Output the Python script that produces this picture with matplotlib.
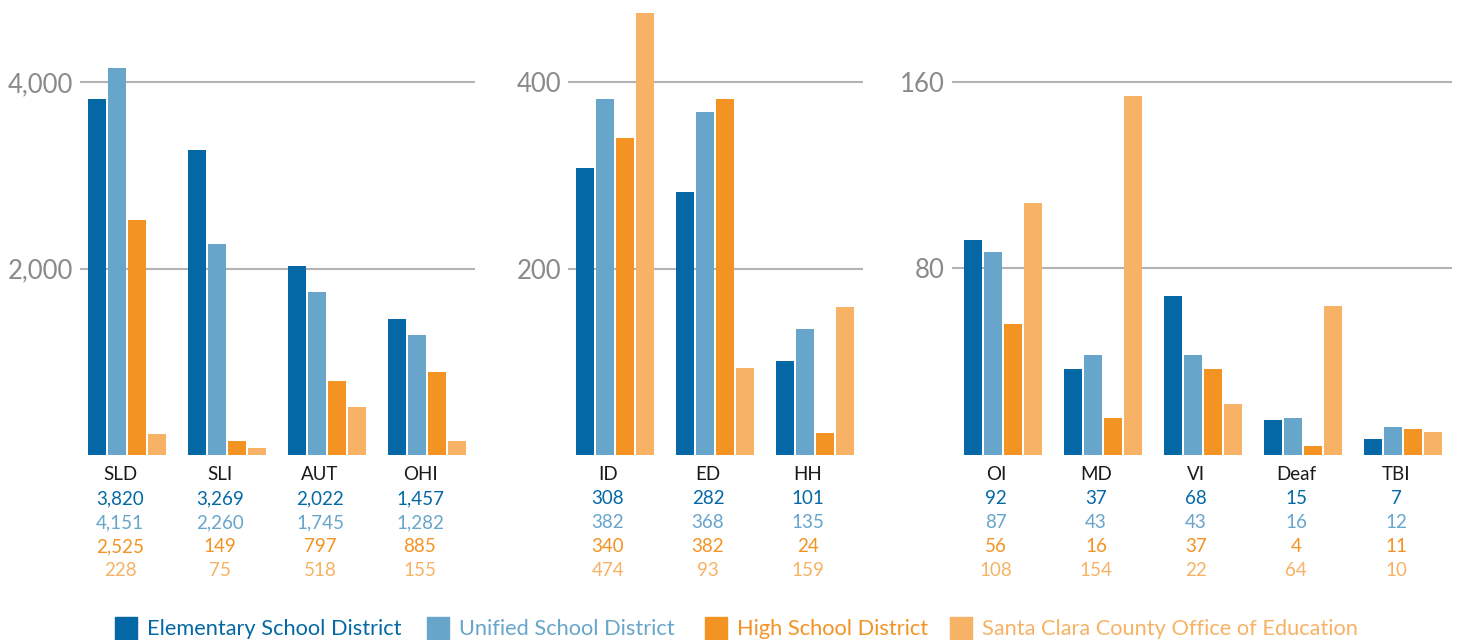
import matplotlib
matplotlib.use('Agg')
import matplotlib.pyplot as plt
from matplotlib.patches import Rectangle
from matplotlib.transforms import blended_transform_factory

plt.rcParams['font.family'] = ['Lato', 'DejaVu Sans']

# data
series = ['Elementary School District', 'Unified School District',
          'High School District', 'Santa Clara County Office of Education']
colors = ['#0468a6', '#67a5cb', '#f39323', '#f7b265']

cats1 = ['SLD', 'SLI', 'AUT', 'OHI']
elem1 = [3820, 3269, 2022, 1457]
unif1 = [4151, 2260, 1745, 1282]
high1 = [2525, 149, 797, 885]
sccoe1 = [228, 75, 518, 155]

cats2 = ['ID', 'ED', 'HH']
elem2 = [308, 282, 101]
unif2 = [382, 368, 135]
high2 = [340, 382, 24]
sccoe2 = [474, 93, 159]

cats3 = ['OI', 'MD', 'VI', 'Deaf', 'TBI']
elem3 = [92, 37, 68, 15, 7]
unif3 = [87, 43, 43, 16, 12]
high3 = [56, 16, 37, 4, 11]
sccoe3 = [108, 154, 22, 64, 10]

ticks1 = [2000, 4000]
ticks2 = [200, 400]
ticks3 = [80, 160]

W, H = 1460, 640
fig = plt.figure(figsize=(W / 100, H / 100), dpi=100)

base = 455
top = 5
panels = [
    # left px, right px, xlim, ymax, cats, values, ticks
    (80, 475, (-0.47, 3.48), 4826, cats1, [elem1, unif1, high1, sccoe1], ticks1),
    (568, 863, (-0.47, 2.48), 482.6, cats2, [elem2, unif2, high2, sccoe2], ticks2),
    (952, 1452, (-0.51, 4.49), 193.0, cats3, [elem3, unif3, high3, sccoe3], ticks3),
]

offsets = [-0.3, -0.1, 0.1, 0.3]
row_y = [499, 523, 547, 571]

for left, right, xl, ymax, cats, vals, ticks in panels:
    ax = fig.add_axes([left / W, (H - base) / H, (right - left) / W, (base - top) / H])
    ax.set_xlim(*xl)
    ax.set_ylim(0, ymax)
    for t in ticks:
        ax.axhline(t, color='#b3b3b3', lw=1.5, zorder=0)
    x = range(len(cats))
    for k in range(4):
        ax.bar([i + offsets[k] for i in x], vals[k], width=0.18,
               color=colors[k], zorder=2)
    for s in ax.spines.values():
        s.set_visible(False)
    ax.set_xticks([])
    ax.set_yticks(ticks)
    ax.set_yticklabels([f'{t:,}' for t in ticks], fontsize=18.5, color='#8a8a8a')
    ax.tick_params(axis='y', length=0, pad=5)
    ax.patch.set_alpha(0)

    tr = blended_transform_factory(ax.transData, fig.transFigure)
    for i, c in enumerate(cats):
        lx = i - 0.07
        ax.text(lx, 1 - 475 / H, c, transform=tr, ha='center', va='center',
                fontsize=13.5, color='#1a1a1a')
        for k in range(4):
            ax.text(lx, 1 - row_y[k] / H, f'{vals[k][i]:,}', transform=tr,
                    ha='center', va='center', fontsize=13.5, color=colors[k])

# legend
leg_x = [115, 427, 705, 950]
for k in range(4):
    fig.patches.append(Rectangle((leg_x[k] / W, 1 - 640 / H), 22 / W, 23 / H,
                                 transform=fig.transFigure, color=colors[k]))
    fig.text((leg_x[k] + 32) / W, 1 - 629 / H, series[k], ha='left', va='center',
             fontsize=15.7, color=colors[k])

plt.savefig('out.png', dpi=100)
